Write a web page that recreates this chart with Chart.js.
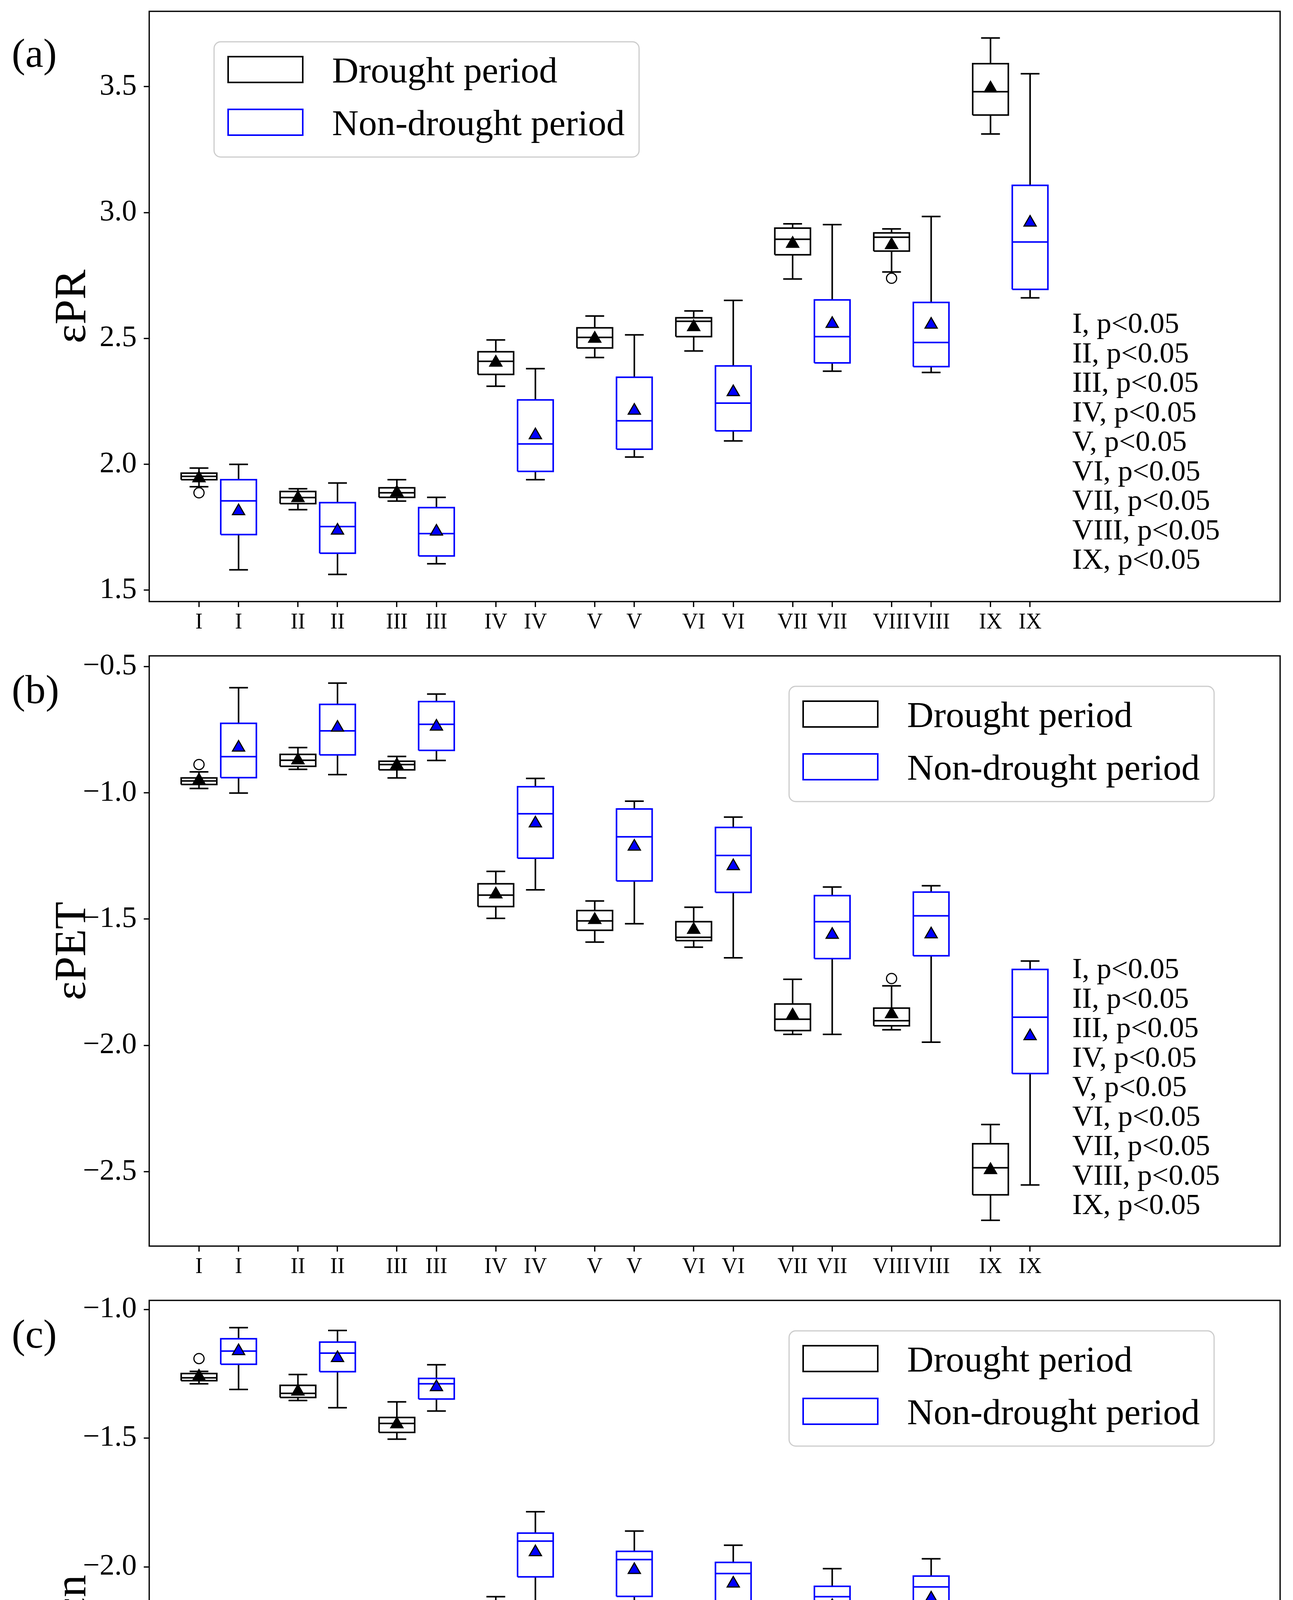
<!DOCTYPE html>
<html>
<head>
<meta charset="utf-8">
<script src="https://cdn.jsdelivr.net/npm/chart.js@4.4.1/dist/chart.umd.min.js"></script>
<style>
  html, body { margin: 0; padding: 0; background: #fff; }
  canvas { position: absolute; left: 0; }
</style>
</head>
<body>
<canvas id="chartA" width="3310" height="1650" style="top:0px"></canvas>
<canvas id="chartB" width="3310" height="1650" style="top:1650px"></canvas>
<canvas id="chartC" width="3310" height="1657" style="top:3300px"></canvas>
<script>
const categories = ['I', 'II', 'III', 'IV', 'V', 'VI', 'VII', 'VIII', 'IX'];
const seriesNames = ['Drought period', 'Non-drought period'];
const pNote = 'p<0.05';

// (a) εPR
const prTicks = [1.5, 2.0, 2.5, 3.0, 3.5];
const prDroughtLow  = [1.911, 1.820, 1.854, 2.310, 2.424, 2.450, 2.736, 2.764, 3.312];
const prDroughtQ1   = [1.939, 1.844, 1.869, 2.357, 2.462, 2.507, 2.832, 2.847, 3.387];
const prDroughtMed  = [1.952, 1.868, 1.887, 2.409, 2.504, 2.568, 2.894, 2.902, 3.480];
const prDroughtQ3   = [1.965, 1.892, 1.907, 2.447, 2.542, 2.582, 2.938, 2.919, 3.591];
const prDroughtHigh = [1.985, 1.903, 1.939, 2.494, 2.589, 2.609, 2.955, 2.935, 3.693];
const prDroughtMean = [1.945, 1.866, 1.888, 2.404, 2.499, 2.545, 2.876, 2.871, 3.493];
const prDroughtOut  = [[0, 1.887], [7, 2.739]];
const prWetLow  = [1.581, 1.563, 1.605, 1.939, 2.029, 2.093, 2.370, 2.365, 2.661];
const prWetQ1   = [1.721, 1.647, 1.636, 1.972, 2.060, 2.133, 2.403, 2.388, 2.695];
const prWetMed  = [1.855, 1.753, 1.725, 2.081, 2.173, 2.243, 2.507, 2.484, 2.883];
const prWetQ3   = [1.939, 1.848, 1.828, 2.256, 2.346, 2.391, 2.653, 2.643, 3.108];
const prWetHigh = [2.000, 1.926, 1.869, 2.380, 2.514, 2.651, 2.952, 2.984, 3.551];
const prWetMean = [1.814, 1.737, 1.733, 2.116, 2.213, 2.287, 2.558, 2.555, 2.960];
const prWetOut  = [];

// (b) εPET
const petTicks = [-2.5, -2.0, -1.5, -1.0, -0.5];
const petDroughtLow  = [-0.983, -0.907, -0.941, -1.497, -1.591, -1.611, -1.956, -1.938, -2.692];
const petDroughtQ1   = [-0.967, -0.895, -0.909, -1.450, -1.544, -1.585, -1.941, -1.922, -2.591];
const petDroughtMed  = [-0.953, -0.871, -0.888, -1.405, -1.507, -1.572, -1.896, -1.902, -2.484];
const petDroughtQ3   = [-0.941, -0.848, -0.875, -1.360, -1.466, -1.510, -1.836, -1.852, -2.389];
const petDroughtHigh = [-0.917, -0.821, -0.856, -1.311, -1.428, -1.453, -1.738, -1.764, -2.313];
const petDroughtMean = [-0.951, -0.871, -0.891, -1.402, -1.503, -1.542, -1.881, -1.876, -2.493];
const petDroughtOut  = [[0, -0.888], [7, -1.735]];
const petWetLow  = [-1.001, -0.928, -0.872, -1.384, -1.518, -1.653, -1.956, -1.987, -2.552];
const petWetQ1   = [-0.940, -0.850, -0.832, -1.259, -1.349, -1.394, -1.656, -1.645, -2.111];
const petWetMed  = [-0.857, -0.755, -0.729, -1.083, -1.174, -1.248, -1.510, -1.487, -1.888];
const petWetQ3   = [-0.725, -0.650, -0.639, -0.976, -1.064, -1.137, -1.407, -1.393, -1.699];
const petWetHigh = [-0.584, -0.566, -0.609, -0.943, -1.033, -1.096, -1.373, -1.368, -1.666];
const petWetMean = [-0.821, -0.742, -0.738, -1.121, -1.213, -1.290, -1.562, -1.560, -1.963];
const petWetOut  = [];

// (c) εn
const nTicks = [-3.0, -2.5, -2.0, -1.5, -1.0];
const nDroughtLow  = [-1.289, -1.354, -1.504, -2.367, -2.442, -2.439, -2.605, -2.554, -3.154];
const nDroughtQ1   = [-1.277, -1.342, -1.478, -2.312, -2.381, -2.400, -2.554, -2.514, -3.082];
const nDroughtMed  = [-1.266, -1.326, -1.443, -2.261, -2.344, -2.346, -2.506, -2.466, -2.889];
const nDroughtQ3   = [-1.249, -1.295, -1.420, -2.169, -2.229, -2.296, -2.379, -2.362, -2.748];
const nDroughtHigh = [-1.241, -1.253, -1.359, -2.116, -2.205, -2.229, -2.334, -2.315, -2.639];
const nDroughtMean = [-1.261, -1.319, -1.446, -2.240, -2.315, -2.341, -2.472, -2.439, -2.904];
const nDroughtOut  = [[0, -1.191]];
const nWetLow  = [-1.311, -1.382, -1.395, -2.155, -2.237, -2.325, -2.400, -2.403, -2.737];
const nWetQ1   = [-1.213, -1.242, -1.348, -2.039, -2.115, -2.148, -2.224, -2.196, -2.501];
const nWetMed  = [-1.162, -1.170, -1.289, -1.900, -1.972, -2.026, -2.116, -2.078, -2.342];
const nWetQ3   = [-1.114, -1.127, -1.268, -1.869, -1.940, -1.983, -2.076, -2.036, -2.333];
const nWetHigh = [-1.071, -1.082, -1.215, -1.786, -1.861, -1.916, -2.007, -1.969, -2.187];
const nWetMean = [-1.162, -1.189, -1.302, -1.943, -2.012, -2.065, -2.152, -2.123, -2.416];
const nWetOut  = [[8, -2.787]];

const FONT = '"Liberation Serif", "Times New Roman", serif';
const seriesColors = ['#000000', '#0000ff'];
const meanFills = ['#000000', '#0000ff'];
const SHIFT = [-0.2, 0.2];     // drought left, non-drought right of each group
const BOX_HALF = 0.18;
const CAP_HALF = 0.095;
const PLOT_BOTTOM = 1540;

const xTickPositions = [];
const xTickLabels = [];
categories.forEach((c, i) => {
    SHIFT.forEach(s => { xTickPositions.push(i + 1 + s); xTickLabels.push(c); });
});

function seriesDatasets(s, k) {
    const color = seriesColors[k];
    const gap = x => ({ x: x, y: null });
    const box = [], med = [], whisk = [];
    categories.forEach((c, i) => {
        const x = i + 1 + SHIFT[k];
        box.push({ x: x - BOX_HALF, y: s.q1[i] }, { x: x + BOX_HALF, y: s.q1[i] },
                 { x: x + BOX_HALF, y: s.q3[i] }, { x: x - BOX_HALF, y: s.q3[i] },
                 { x: x - BOX_HALF, y: s.q1[i] }, gap(x));
        med.push({ x: x - BOX_HALF, y: s.med[i] }, { x: x + BOX_HALF, y: s.med[i] }, gap(x));
        whisk.push({ x: x, y: s.q3[i] }, { x: x, y: s.high[i] }, gap(x),
                   { x: x, y: s.q1[i] }, { x: x, y: s.low[i] }, gap(x),
                   { x: x - CAP_HALF, y: s.high[i] }, { x: x + CAP_HALF, y: s.high[i] }, gap(x),
                   { x: x - CAP_HALF, y: s.low[i] }, { x: x + CAP_HALF, y: s.low[i] }, gap(x));
    });
    const line = (data, col, order) => ({
        data: data, showLine: true, borderColor: col, borderWidth: 4, pointRadius: 0,
        spanGaps: false, fill: false, order: order
    });
    return [
        {
            label: seriesNames[k] + ' mean',
            data: categories.map((c, i) => ({ x: i + 1 + SHIFT[k], y: s.mean[i] })),
            pointStyle: 'triangle', pointRadius: 18, backgroundColor: meanFills[k],
            borderColor: '#000', borderWidth: 3, order: 0
        },
        {
            label: seriesNames[k] + ' outliers',
            data: s.out.map(o => ({ x: o[0] + 1 + SHIFT[k], y: o[1] })),
            pointStyle: 'circle', pointRadius: 13, backgroundColor: '#fff',
            borderColor: '#000', borderWidth: 3, order: 0
        },
        line(med, color, 1),
        line(box, color, 2),
        line(whisk, '#000', 3)
    ];
}

const decorPlugin = {
    id: 'panelDecor',
    afterDraw(chart, args, o) {
        const ctx = chart.ctx, a = chart.chartArea;
        ctx.save();
        ctx.strokeStyle = '#000';
        ctx.lineWidth = 3.3;
        ctx.strokeRect(a.left, a.top, a.right - a.left, a.bottom - a.top);

        ctx.fillStyle = '#000';
        ctx.textAlign = 'left';
        ctx.textBaseline = 'alphabetic';
        ctx.font = '104px ' + FONT;
        ctx.fillText(o.letter, 30, o.letterY);

        ctx.save();
        ctx.translate(218, (a.top + a.bottom) / 2);
        ctx.rotate(-Math.PI / 2);
        ctx.textAlign = 'center';
        ctx.font = '115px ' + FONT;
        ctx.fillText(o.yTitle, 0, 0);
        ctx.restore();

        ctx.font = '75px ' + FONT;
        categories.forEach((c, i) => ctx.fillText(c + ', ' + pNote, 2745, o.noteY + i * 75.5));

        // legend
        const lx = o.legendX, ly = 107;
        ctx.beginPath();
        ctx.roundRect(lx, ly, 1088, 295, 17);
        ctx.fillStyle = 'rgba(255,255,255,0.8)';
        ctx.fill();
        ctx.strokeStyle = '#cccccc';
        ctx.lineWidth = 3;
        ctx.stroke();
        seriesNames.forEach((name, i) => {
            const top = ly + 38 + i * 135;
            ctx.fillStyle = '#fff';
            ctx.fillRect(lx + 36, top, 191, 66);
            ctx.strokeStyle = seriesColors[i];
            ctx.lineWidth = 4;
            ctx.strokeRect(lx + 36, top, 191, 66);
            ctx.fillStyle = '#000';
            ctx.font = '94px ' + FONT;
            ctx.fillText(name, lx + 302, top + 66);
        });
        ctx.restore();
    }
};

function makeChart(id, canvasH, yMin, yMax, yTicks, drought, wet, deco) {
    const tickMark = { drawOnChartArea: false, drawTicks: true, tickLength: 14, tickWidth: 3.3, tickColor: '#000' };
    new Chart(document.getElementById(id), {
        type: 'scatter',
        data: { datasets: seriesDatasets(drought, 0).concat(seriesDatasets(wet, 1)) },
        options: {
            responsive: false,
            animation: false,
            devicePixelRatio: 1,
            events: [],
            layout: { padding: { left: 0, top: 29, right: 33, bottom: 0 } },
            plugins: { legend: { display: false }, tooltip: { enabled: false }, panelDecor: deco },
            scales: {
                x: {
                    type: 'linear', min: 0.297, max: 11.727, bounds: 'data',
                    afterBuildTicks: s => { s.ticks = xTickPositions.map(v => ({ value: v })); },
                    afterFit: s => { s.height = canvasH - PLOT_BOTTOM; s.paddingLeft = 0; s.paddingRight = 0; },
                    ticks: {
                        autoSkip: false, maxRotation: 0, minRotation: 0, padding: 7, color: '#000',
                        font: { family: FONT, size: 56 },
                        callback: (v, i) => xTickLabels[i]
                    },
                    grid: tickMark,
                    border: { display: false }
                },
                y: {
                    type: 'linear', min: yMin, max: yMax, bounds: 'data',
                    afterBuildTicks: s => { s.ticks = yTicks.map(v => ({ value: v })); },
                    afterFit: s => { s.width = 382; s.paddingTop = 0; s.paddingBottom = 0; },
                    ticks: {
                        padding: 18, color: '#000',
                        font: { family: FONT, size: 76 },
                        callback: v => v.toFixed(1).replace('-', '\u2212')
                    },
                    grid: tickMark,
                    border: { display: false }
                }
            }
        },
        plugins: [decorPlugin]
    });
}

makeChart('chartA', 1650, 1.455, 3.799, prTicks,
    { low: prDroughtLow, q1: prDroughtQ1, med: prDroughtMed, q3: prDroughtQ3, high: prDroughtHigh, mean: prDroughtMean, out: prDroughtOut },
    { low: prWetLow, q1: prWetQ1, med: prWetMed, q3: prWetQ3, high: prWetHigh, mean: prWetMean, out: prWetOut },
    { letter: '(a)', letterY: 171, yTitle: '\u03b5PR', noteY: 852, legendX: 548 });

makeChart('chartB', 1650, -2.794, -0.458, petTicks,
    { low: petDroughtLow, q1: petDroughtQ1, med: petDroughtMed, q3: petDroughtQ3, high: petDroughtHigh, mean: petDroughtMean, out: petDroughtOut },
    { low: petWetLow, q1: petWetQ1, med: petWetMed, q3: petWetQ3, high: petWetHigh, mean: petWetMean, out: petWetOut },
    { letter: '(b)', letterY: 150, yTitle: '\u03b5PET', noteY: 854, legendX: 2020 });

makeChart('chartC', 1657, -3.258, -0.965, nTicks,
    { low: nDroughtLow, q1: nDroughtQ1, med: nDroughtMed, q3: nDroughtQ3, high: nDroughtHigh, mean: nDroughtMean, out: nDroughtOut },
    { low: nWetLow, q1: nWetQ1, med: nWetMed, q3: nWetQ3, high: nWetHigh, mean: nWetMean, out: nWetOut },
    { letter: '(c)', letterY: 150, yTitle: '\u03b5n', noteY: 871, legendX: 2020 });
</script>
</body>
</html>
